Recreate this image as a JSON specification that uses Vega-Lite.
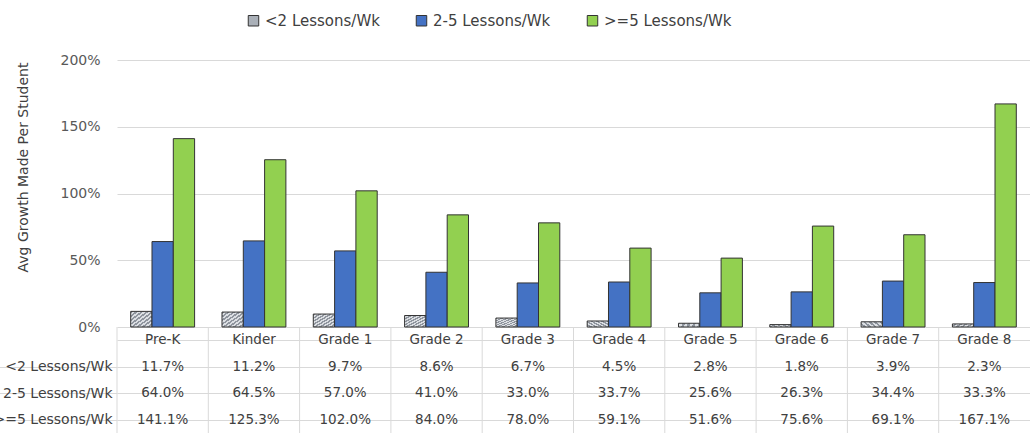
{
  "$schema": "https://vega.github.io/schema/vega-lite/v6.json",
  "padding": {"left": -7, "top": 13, "right": 0, "bottom": 0},
  "background": "white",
  "config": {"font": "DejaVu Sans", "view": {"stroke": null}},
  "spacing": 0,
  "bounds": "flush",
  "resolve": {"legend": {"fill": "independent"}, "scale": {"x": "independent"}},
  "data": {"values": [
    {"grade": "Pre-K", "series": "<2 Lessons/Wk", "value": 0.117},
    {"grade": "Kinder", "series": "<2 Lessons/Wk", "value": 0.112},
    {"grade": "Grade 1", "series": "<2 Lessons/Wk", "value": 0.097},
    {"grade": "Grade 2", "series": "<2 Lessons/Wk", "value": 0.086},
    {"grade": "Grade 3", "series": "<2 Lessons/Wk", "value": 0.067},
    {"grade": "Grade 4", "series": "<2 Lessons/Wk", "value": 0.045},
    {"grade": "Grade 5", "series": "<2 Lessons/Wk", "value": 0.028},
    {"grade": "Grade 6", "series": "<2 Lessons/Wk", "value": 0.018},
    {"grade": "Grade 7", "series": "<2 Lessons/Wk", "value": 0.039},
    {"grade": "Grade 8", "series": "<2 Lessons/Wk", "value": 0.023},
    {"grade": "Pre-K", "series": "2-5 Lessons/Wk", "value": 0.640},
    {"grade": "Kinder", "series": "2-5 Lessons/Wk", "value": 0.645},
    {"grade": "Grade 1", "series": "2-5 Lessons/Wk", "value": 0.570},
    {"grade": "Grade 2", "series": "2-5 Lessons/Wk", "value": 0.410},
    {"grade": "Grade 3", "series": "2-5 Lessons/Wk", "value": 0.330},
    {"grade": "Grade 4", "series": "2-5 Lessons/Wk", "value": 0.337},
    {"grade": "Grade 5", "series": "2-5 Lessons/Wk", "value": 0.256},
    {"grade": "Grade 6", "series": "2-5 Lessons/Wk", "value": 0.263},
    {"grade": "Grade 7", "series": "2-5 Lessons/Wk", "value": 0.344},
    {"grade": "Grade 8", "series": "2-5 Lessons/Wk", "value": 0.333},
    {"grade": "Pre-K", "series": ">=5 Lessons/Wk", "value": 1.411},
    {"grade": "Kinder", "series": ">=5 Lessons/Wk", "value": 1.253},
    {"grade": "Grade 1", "series": ">=5 Lessons/Wk", "value": 1.020},
    {"grade": "Grade 2", "series": ">=5 Lessons/Wk", "value": 0.840},
    {"grade": "Grade 3", "series": ">=5 Lessons/Wk", "value": 0.780},
    {"grade": "Grade 4", "series": ">=5 Lessons/Wk", "value": 0.591},
    {"grade": "Grade 5", "series": ">=5 Lessons/Wk", "value": 0.516},
    {"grade": "Grade 6", "series": ">=5 Lessons/Wk", "value": 0.756},
    {"grade": "Grade 7", "series": ">=5 Lessons/Wk", "value": 0.691},
    {"grade": "Grade 8", "series": ">=5 Lessons/Wk", "value": 1.671}
  ]},
  "vconcat": [
    {
      "width": 913,
      "height": 267,
      "mark": {"type": "bar", "stroke": "#333333", "strokeWidth": 1},
      "encoding": {
        "x": {"field": "grade", "type": "nominal", "sort": null,
              "scale": {"paddingInner": 0.3, "paddingOuter": 0.15}, "axis": null},
        "xOffset": {"field": "series", "type": "nominal", "sort": ["<2 Lessons/Wk", "2-5 Lessons/Wk", ">=5 Lessons/Wk"]},
        "y": {"field": "value", "type": "quantitative",
              "scale": {"domain": [0, 2]},
              "axis": {"values": [0, 0.5, 1, 1.5, 2], "format": "%", "grid": true, "gridColor": "#d9d9d9",
                       "ticks": false, "domain": false, "labelPadding": 17, "labelFontSize": 14,
                       "labelColor": "#595959", "title": "Avg Growth Made Per Student",
                       "titleFontSize": 14, "titleFontWeight": "normal", "titleColor": "#404040",
                       "titlePadding": 29, "titleY": 107}},
        "fill": {"condition": {"test": "datum.series === '<2 Lessons/Wk'",
                               "value": {"gradient": "linear", "x1": 0, "y1": 0, "x2": 1, "y2": 1,
                                         "stops": [
                                           {"offset": 0, "color": "#8f959e"}, {"offset": 0.0625, "color": "#8f959e"},
                                           {"offset": 0.0625, "color": "#dcdfe3"}, {"offset": 0.125, "color": "#dcdfe3"},
                                           {"offset": 0.125, "color": "#8f959e"}, {"offset": 0.1875, "color": "#8f959e"},
                                           {"offset": 0.1875, "color": "#dcdfe3"}, {"offset": 0.25, "color": "#dcdfe3"},
                                           {"offset": 0.25, "color": "#8f959e"}, {"offset": 0.3125, "color": "#8f959e"},
                                           {"offset": 0.3125, "color": "#dcdfe3"}, {"offset": 0.375, "color": "#dcdfe3"},
                                           {"offset": 0.375, "color": "#8f959e"}, {"offset": 0.4375, "color": "#8f959e"},
                                           {"offset": 0.4375, "color": "#dcdfe3"}, {"offset": 0.5, "color": "#dcdfe3"},
                                           {"offset": 0.5, "color": "#8f959e"}, {"offset": 0.5625, "color": "#8f959e"},
                                           {"offset": 0.5625, "color": "#dcdfe3"}, {"offset": 0.625, "color": "#dcdfe3"},
                                           {"offset": 0.625, "color": "#8f959e"}, {"offset": 0.6875, "color": "#8f959e"},
                                           {"offset": 0.6875, "color": "#dcdfe3"}, {"offset": 0.75, "color": "#dcdfe3"},
                                           {"offset": 0.75, "color": "#8f959e"}, {"offset": 0.8125, "color": "#8f959e"},
                                           {"offset": 0.8125, "color": "#dcdfe3"}, {"offset": 0.875, "color": "#dcdfe3"},
                                           {"offset": 0.875, "color": "#8f959e"}, {"offset": 0.9375, "color": "#8f959e"},
                                           {"offset": 0.9375, "color": "#dcdfe3"}, {"offset": 1, "color": "#dcdfe3"}
                                         ]}},
                 "field": "series", "type": "nominal",
                 "scale": {"domain": ["<2 Lessons/Wk", "2-5 Lessons/Wk", ">=5 Lessons/Wk"],
                           "range": ["#aab0b8", "#4472c4", "#92d050"]},
                 "legend": {"title": null, "orient": "none", "legendX": 129, "legendY": -47,
                            "direction": "horizontal", "symbolType": "square", "symbolSize": 110,
                            "symbolStrokeColor": "#333333", "symbolStrokeWidth": 1,
                            "labelFontSize": 15, "labelColor": "#404040", "columnPadding": 34,
                            "labelOffset": 4}}
      }
    },
    {
      "width": 913,
      "height": 106,
      "encoding": {
        "x": {"field": "grade", "type": "nominal", "sort": null,
              "scale": {"paddingInner": 0, "paddingOuter": 0}, "axis": null},
        "y": {"field": "series", "type": "nominal",
              "scale": {"domain": ["hdr", "<2 Lessons/Wk", "2-5 Lessons/Wk", ">=5 Lessons/Wk"],
                        "paddingInner": 0, "paddingOuter": 0},
              "axis": {"orient": "left", "grid": true, "bandPosition": 0, "gridColor": "#d9d9d9",
                       "ticks": true, "tickSize": 120,
                       "tickColor": {"condition": {"test": "datum.value === 'hdr'", "value": "transparent"}, "value": "#d9d9d9"},
                       "labelExpr": "datum.value === 'hdr' ? '' : datum.value",
                       "labelPadding": -115, "labelFontSize": 14,
                       "labelColor": "#404040", "domain": false, "title": null}}
      },
      "layer": [
        {
          "transform": [{"filter": "datum.series === '<2 Lessons/Wk'"}],
          "mark": {"type": "rule", "color": "#d9d9d9", "strokeWidth": 1},
          "encoding": {"x": {"field": "grade", "type": "nominal", "sort": null, "bandPosition": 0}, "y": null}
        },
        {
          "mark": {"type": "text", "fontSize": 13.5, "color": "#404040"},
          "encoding": {"text": {"field": "value", "type": "quantitative", "format": ".1%"}}
        },
        {
          "transform": [{"filter": "datum.series === '<2 Lessons/Wk'"}],
          "mark": {"type": "text", "fontSize": 13.5, "color": "#404040"},
          "encoding": {"y": {"datum": "hdr"}, "text": {"field": "grade", "type": "nominal"}}
        }
      ]
    }
  ]
}
